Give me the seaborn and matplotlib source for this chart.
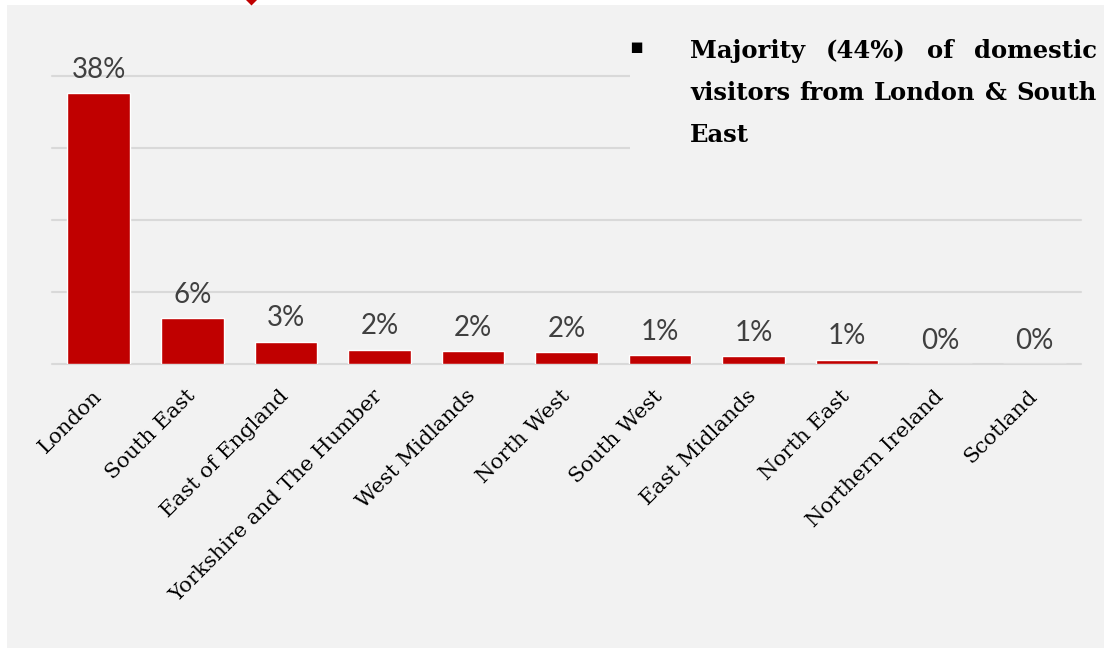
import matplotlib
matplotlib.use("Agg")
import matplotlib.pyplot as plt
import seaborn as sns
import pandas as pd
from matplotlib.patches import Rectangle, Polygon

# Share of domestic visitors by home region (%)
regions = ["London", "South East", "East of England", "Yorkshire and The Humber",
           "West Midlands", "North West", "South West", "East Midlands",
           "North East", "Northern Ireland", "Scotland"]
share_pct = [37.6, 6.4, 3.1, 2.0, 1.8, 1.6, 1.25, 1.1, 0.6, 0.0, 0.0]
y_ticks = [0, 10, 20, 30, 40]
note_lines = ["Majority (44%) of domestic", "visitors from London & South", "East"]

W, H = 1104, 648
BAR_RED = "#c00000"
PANEL = "#f2f2f2"

sns.set_theme(style="white")
fig = plt.figure(figsize=(W / 100, H / 100), dpi=100, facecolor="white")


def fx(px):
    return px / W


def fy(py):
    return 1 - py / H


# light grey slide panel behind everything
fig.add_artist(Rectangle((fx(7), 0), 1 - fx(7), fy(5), transform=fig.transFigure,
                         facecolor=PANEL, edgecolor="none", zorder=-10))
# small red pointer at the top edge
fig.add_artist(Polygon([(fx(245), fy(-1)), (fx(258), fy(-1)), (fx(251.5), fy(5.5))],
                       closed=True, transform=fig.transFigure,
                       facecolor=BAR_RED, edgecolor="none", zorder=5))

ax = fig.add_axes([fx(52), (H - 364) / H, fx(1081) - fx(52), 288 / H])
ax.patch.set_visible(False)

df = pd.DataFrame({"region": regions, "share": share_pct})
sns.barplot(data=df, x="region", y="share", color=BAR_RED, saturation=1,
            width=0.67, ax=ax)

ax.set_xlim(-0.5, len(regions) - 0.5)
ax.set_ylim(0, 40)
ax.set_yticks(y_ticks)
ax.yaxis.grid(True, color="#d9d9d9", linewidth=1.5)
for gl in ax.get_ygridlines():
    gl.set_clip_on(False)
ax.set_axisbelow(True)
for s in ax.spines.values():
    s.set_visible(False)
ax.set_xlabel("")
ax.set_ylabel("")
ax.tick_params(axis="y", left=False, labelleft=False)
ax.tick_params(axis="x", bottom=False, pad=15)
ax.set_xticks(range(len(regions)))
ax.set_xticklabels(regions, rotation=45, ha="right", va="center",
                   rotation_mode="anchor", fontfamily="DejaVu Serif",
                   fontsize=15.3, color="black")

ax.bar_label(ax.containers[0], labels=[f"{v:.0f}%" for v in share_pct],
             padding=7.5, fontsize=20, color="#404040", fontfamily="Lato")

# callout box with bullet note
fig.add_artist(Rectangle((fx(630), fy(185)), 1 - fx(630), fy(5) - fy(185),
                         transform=fig.transFigure, facecolor=PANEL,
                         edgecolor="none", zorder=2))
fig.text(fx(636), fy(47), "\u25aa", ha="center", va="center", fontsize=15,
         fontfamily="DejaVu Sans", color="black", zorder=3)

fig.canvas.draw()
renderer = fig.canvas.get_renderer()
note_font = dict(fontsize=17.5, fontweight="bold", fontfamily="DejaVu Serif",
                 color="black", va="baseline", ha="left", zorder=3)
left_px, right_px = 690, 1097
baselines = [58, 100, 142]

probe_a = fig.text(0, 0, "a a", **note_font)
probe_b = fig.text(0, 0, "aa", **note_font)
space_w = (probe_a.get_window_extent(renderer).width
           - probe_b.get_window_extent(renderer).width)
probe_a.remove()
probe_b.remove()

for i, line in enumerate(note_lines):
    words = line.split()
    texts = [fig.text(0, fy(baselines[i]), w, **note_font) for w in words]
    widths = [t.get_window_extent(renderer).width for t in texts]
    if i < len(note_lines) - 1 and len(words) > 1:
        gap = (right_px - left_px - sum(widths)) / (len(words) - 1)
    else:
        gap = space_w
    x = left_px
    for t, w in zip(texts, widths):
        t.set_x(fx(x))
        x += w + gap

fig.savefig("out.png", dpi=100, facecolor=fig.get_facecolor())
